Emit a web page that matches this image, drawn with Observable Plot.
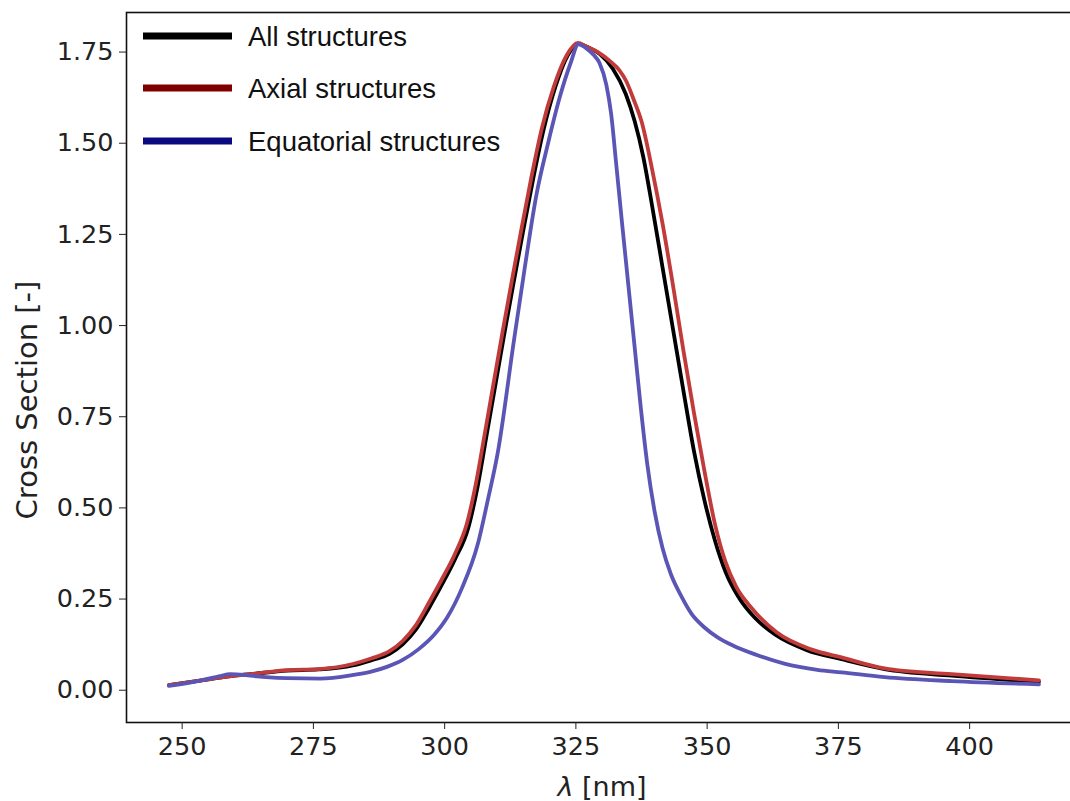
<!DOCTYPE html>
<html><head><meta charset="utf-8">
<script src="https://cdn.jsdelivr.net/npm/d3@7"></script>
<script src="https://cdn.jsdelivr.net/npm/@observablehq/plot@0.6"></script>
<style>
html,body{margin:0;padding:0;background:#fff;overflow:hidden;width:1070px;height:801px}
#wrap{position:relative;width:1070px;height:801px;overflow:hidden}
#wrap svg{position:absolute;left:0;top:0}
.leg{position:absolute;font-family:"Liberation Sans",Arial,sans-serif;font-size:27.5px;color:#111;line-height:1;transform:translateY(-50%);white-space:nowrap}
.sw{position:absolute;height:7px;width:89px;transform:translateY(-50%)}
.xl{position:absolute;font-family:"DejaVu Sans",sans-serif;font-size:27px;color:#222;transform:translate(-50%,-50%);white-space:nowrap;line-height:1}
.yl{position:absolute;font-family:"DejaVu Sans",sans-serif;font-size:29px;color:#222;transform:translate(-50%,-50%) rotate(-90deg);white-space:nowrap;line-height:1}
</style></head><body><div id="wrap"></div>
<script>
const seriesNames = ["All structures", "Axial structures", "Equatorial structures"];
const curveColors = ["#000000", "#c23b3b", "#5b55b5"];
const legendColors = ["#000000", "#800000", "#0a0a80"];
const xTicks = [250, 275, 300, 325, 350, 375, 400];
const yTicks = [0, 0.25, 0.5, 0.75, 1.0, 1.25, 1.5, 1.75];

const lamAll = [247.5,255,260,263,270,276,282.5,286,289.5,292,294.5,297,299.5,302,304.5,306.3,308,309.7,311.4,313.1,314.9,316.9,318.9,321.1,323.4,325.5,327.5,329.5,332,334.5,336.2,337.8,339.5,341.5,343.5,345.5,347.5,349.5,351.5,353.5,356,359,363,369,375.6,383.8,396.6,413.2];
const csAll  = [0.014,0.030,0.040,0.044,0.054,0.057,0.068,0.082,0.100,0.126,0.166,0.225,0.290,0.360,0.445,0.560,0.700,0.840,0.980,1.115,1.255,1.405,1.540,1.655,1.740,1.772,1.762,1.745,1.705,1.635,1.560,1.465,1.330,1.160,0.990,0.820,0.655,0.520,0.410,0.325,0.255,0.200,0.152,0.110,0.085,0.058,0.040,0.023];

const lamAxial = [247.5,255,260,263,270,276,282.5,286,289.5,292,294.5,297,299.5,302,304.2,306,307.6,309.3,311,312.7,314.5,316.5,318.5,320.8,323.2,325.4,327,329.2,331.5,333.3,334.6,336,337.5,339.5,341.5,343.5,345.5,347.5,349.5,351.5,353.5,355.5,358.5,363.3,369.8,375.6,383.8,396.6,413.2];
const csAxial  = [0.014,0.030,0.040,0.044,0.055,0.058,0.072,0.087,0.107,0.135,0.178,0.240,0.305,0.375,0.455,0.570,0.700,0.840,0.980,1.115,1.255,1.405,1.540,1.655,1.740,1.775,1.765,1.750,1.725,1.700,1.670,1.620,1.560,1.430,1.280,1.110,0.930,0.760,0.600,0.455,0.352,0.285,0.225,0.158,0.112,0.090,0.060,0.044,0.027];

const lamEq = [247.5,253,257,259.2,263,266,270,276.3,282.6,286,289,292,295,298,300.5,303.3,306.3,308.2,310.1,313.2,315.1,317.5,319.7,322,324,325.5,327,328.4,329.5,330.8,331.7,332.7,333.8,335,336.2,337.4,338.6,340,341.5,343.1,345,347,349.5,352,355,359,364.7,371,375.6,383.8,396.6,413.2];
const csEq  = [0.012,0.025,0.038,0.044,0.040,0.036,0.033,0.032,0.042,0.051,0.064,0.083,0.112,0.152,0.200,0.280,0.400,0.520,0.650,0.959,1.143,1.360,1.500,1.630,1.720,1.772,1.760,1.742,1.720,1.660,1.582,1.440,1.280,1.110,0.940,0.770,0.620,0.490,0.390,0.318,0.260,0.210,0.172,0.145,0.122,0.099,0.073,0.056,0.049,0.036,0.025,0.016];

const seriesLams = [lamAll, lamAxial, lamEq];
const seriesVals = [csAll, csAxial, csEq];
const data = seriesNames.flatMap((name, k) =>
  seriesLams[k].map((l, i) => ({series: name, lam: l, cs: seriesVals[k][i]})));

const chart = Plot.plot({
  width: 1070, height: 801,
  marginLeft: 126, marginRight: -12, marginTop: 12, marginBottom: 79,
  style: {fontFamily: "DejaVu Sans", fontSize: "25.5px", color: "#222", background: "#fff"},
  x: {domain: [239.4, 421.5]},
  y: {domain: [-0.0885, 1.8585]},
  color: {domain: seriesNames, range: curveColors},
  marks: [
    Plot.line(data, {x: "lam", y: "cs", z: "series", stroke: "series", strokeWidth: 3.8, curve: "monotone-x", strokeLinejoin: "round"}),
    Plot.frame({stroke: "#111", strokeWidth: 1.6}),
    Plot.axisX({ticks: xTicks, tickSize: 7, tickPadding: 7, label: null, tickFormat: d => String(d)}),
    Plot.axisY({ticks: yTicks, tickSize: 7, tickPadding: 6, tickFormat: d => d.toFixed(2), label: null})
  ]
});
const wrap = document.getElementById("wrap");
wrap.appendChild(chart);

const rowsY = [36, 88, 141];
seriesNames.forEach((name, k) => {
  const sw = document.createElement("div");
  sw.className = "sw";
  sw.style.left = "143px"; sw.style.top = rowsY[k] + "px"; sw.style.background = legendColors[k];
  wrap.appendChild(sw);
  const t = document.createElement("div");
  t.className = "leg";
  t.style.left = "248px"; t.style.top = (rowsY[k] + 1) + "px";
  t.textContent = name;
  wrap.appendChild(t);
});
const xl = document.createElement("div");
xl.className = "xl";
xl.style.left = "602px"; xl.style.top = "786px";
xl.innerHTML = "<i>λ</i> [nm]";
wrap.appendChild(xl);
const yl = document.createElement("div");
yl.className = "yl";
yl.style.left = "27px"; yl.style.top = "400px";
yl.textContent = "Cross Section [-]";
wrap.appendChild(yl);
</script></body></html>
